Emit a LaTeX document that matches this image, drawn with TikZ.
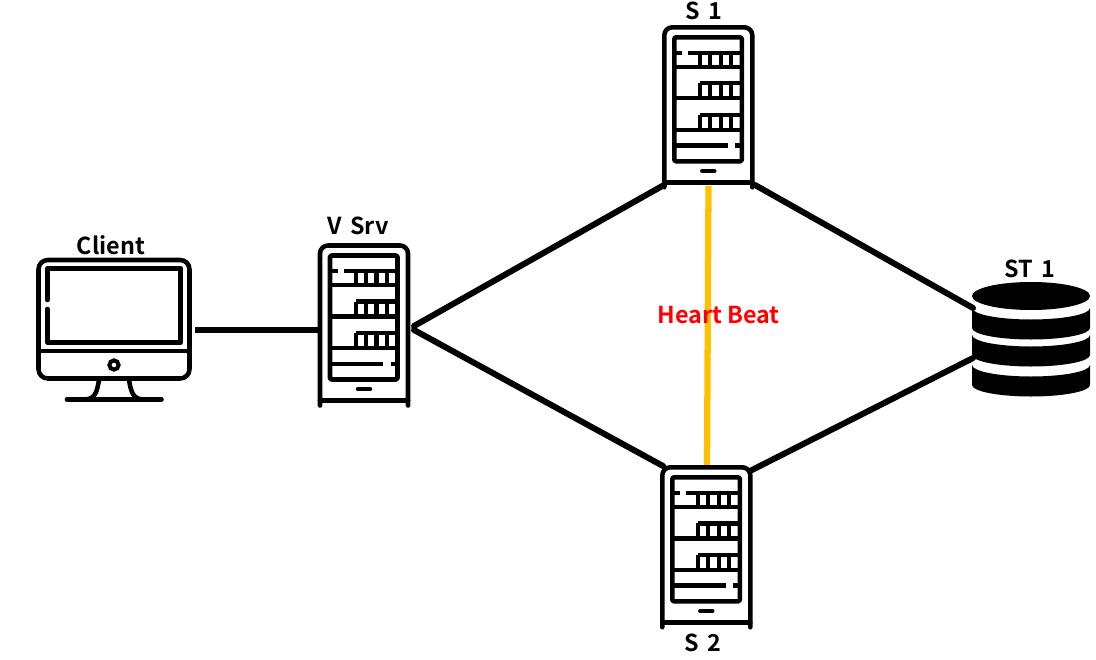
\documentclass[tikz,border=0pt]{standalone}
\usepackage{fontspec}
\setmainfont{Noto Sans CJK KR}[BoldFont={Noto Sans CJK KR Bold}]
\newcommand{\dblayer}[2]{%
  \fill (972,#1) .. controls (972,#1+6.3) and (998.5,#1+11.5) .. (1031,#1+11.5)
    .. controls (1063.5,#1+11.5) and (1090,#1+6.3) .. (1090,#1)
    -- (1090,#2) .. controls (1090,#2+6.3) and (1063.5,#2+11.5) .. (1031,#2+11.5)
    .. controls (998.5,#2+11.5) and (972,#2+6.3) .. (972,#2) -- cycle;}
\tikzset{
  ink/.style={draw=black,line width=3.4pt,line cap=round,line join=round},
  thinink/.style={draw=black,line width=3.3pt,line cap=butt},
  barink/.style={draw=black,line width=3.2pt,line cap=butt},
  link/.style={draw=black,line width=4.5pt,line cap=round},
  beat/.style={draw=yellowbeat,line width=4.7pt},
  lbl/.style={font=\fontsize{17.5pt}{20pt}\selectfont\bfseries,text=black,inner sep=0pt},
  serverbody/.pic={
    \draw[ink,rounded corners=6pt] (0,160) -- (0,0) -- (88,0) -- (88,160);
    \draw[ink] (0,155) -- (88,155);
    \draw[ink,rounded corners=1pt] (10,10) rectangle (77.5,134);
    \draw[thinink] (10,25.5) -- (17.5,25.5) (24,25.5) -- (77.5,25.5);
    \draw[thinink] (10,39.5) -- (77.5,39.5);
    \draw[thinink] (35.7,56) -- (77.5,56);
    \draw[thinink] (10,71) -- (77.5,71);
    \draw[thinink] (35.7,87.7) -- (77.5,87.7);
    \draw[thinink] (10,102.7) -- (77.5,102.7);
    \draw[thinink] (10,118.3) -- (63.3,118.3) (70.7,118.3) -- (77.5,118.3);
    \foreach \bx in {35.7,45.7,56.4,66.7}{
      \draw[barink] (\bx,25.5) -- (\bx,39.5);
      \draw[barink] (\bx,56) -- (\bx,71);
      \draw[barink] (\bx,87.7) -- (\bx,102.7);
    }
    \draw[ink] (38,143.7) -- (50,143.7);
  },
}
\definecolor{yellowbeat}{HTML}{FFC000}
\begin{document}
\begin{tikzpicture}[x=0.75pt,y=-0.75pt]
\useasboundingbox (0,0) rectangle (1096,660);
% port coordinates
\coordinate (clientE) at (195,330);
\coordinate (vsrvW) at (319,330);
\coordinate (vsrvUp) at (414,326);
\coordinate (vsrvDn) at (414,330);
\coordinate (s1W) at (664,185);
\coordinate (s1E) at (755,185);
\coordinate (s1S) at (708.5,186);
\coordinate (s2W) at (663,466);
\coordinate (s2E) at (750,471);
\coordinate (s2N) at (707,467);
\coordinate (stUp) at (973,308);
\coordinate (stDn) at (973,358);
% connectors
\draw[link,line cap=butt] (clientE) -- (vsrvW);
\draw[link] (vsrvUp) -- (s1W);
\draw[link] (vsrvDn) -- (s2W);
\draw[link] (s1E) -- (stUp);
\draw[link] (s2E) -- (stDn);
\draw[beat] (s1S) -- (s2N);
% client
\draw[ink,rounded corners=7pt] (38.5,260) rectangle (189.5,378.5);
\draw[ink] (38.5,351) -- (189.5,351);
\draw[ink] (47.3,300) -- (47.3,268.3) -- (180.7,268.3) -- (180.7,342.3) -- (47.3,342.3) -- (47.3,309);
\draw[line width=3pt] (114,365) circle (4.6);
\draw[ink] (67,399.5) -- (161.5,399.5);
\draw[ink] (99,380) .. controls (97,392) and (95,399) .. (85,399.5);
\draw[ink] (129,380) .. controls (131,392) and (133,399) .. (143,399.5);
\node[lbl] (clientLabel) at (111,245) {Client};
% servers
\pic (vsrv) at (320,245.5) {serverbody};
\pic (s1) at (664.3,27.3) {serverbody};
\pic (s2) at (662.3,467.3) {serverbody};
\node[lbl] (vsrvLabel) at (358,226) {V\hspace{0.35em}Srv};
\node[lbl] (s1Label) at (704,11) {S\hspace{0.35em}1};
\node[lbl] (s2Label) at (703,643) {S\hspace{0.35em}2};
% storage
\fill (1031,296) ellipse (59 and 14);
\dblayer{308}{328}
\dblayer{335}{355}
\dblayer{365}{385}
\node[lbl] (stLabel) at (1030,269) {ST\hspace{0.35em}1};
% heart beat
\node[lbl,text=red] (hb) at (718.5,315) {Heart Beat};
\end{tikzpicture}
\end{document}
